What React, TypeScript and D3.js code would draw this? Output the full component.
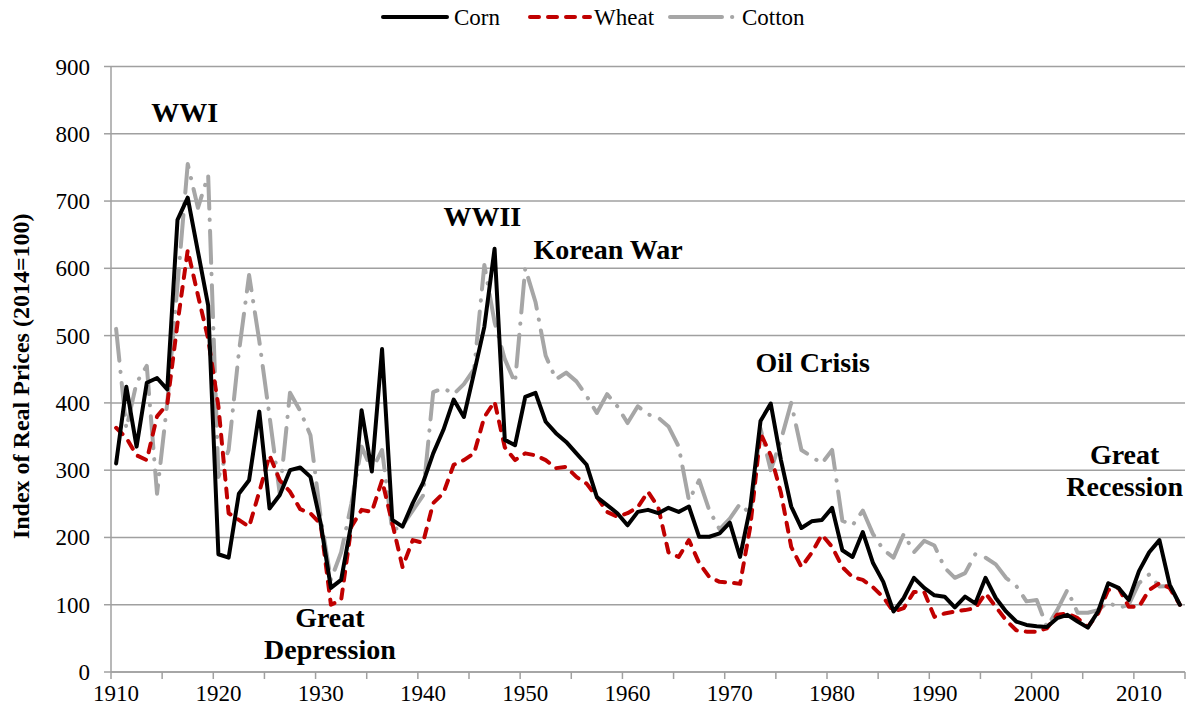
import React from "react";
import * as d3 from "d3";

const startYear = 1910;
const endYear = 2014;
const years = d3.range(startYear, endYear + 1);

const corn = [
  310, 424, 335, 430, 437, 420, 672, 705, 625, 545,
  175, 170, 265, 285, 387, 243, 263, 300, 304, 290,
  221, 125, 137, 221, 389, 298, 480, 226, 216, 251,
  281, 325, 360, 405, 379, 445, 513, 629, 345, 337,
  409, 415, 372, 355, 342, 325, 308, 260, 248, 236,
  218, 238, 241, 236, 244, 238, 246, 201, 201, 206,
  222, 171, 245, 373, 399, 315, 246, 214, 224, 226,
  244, 181, 171, 208, 162, 134, 90, 110, 140, 125,
  114, 112, 96, 112, 102, 140, 110, 90, 75, 70,
  68, 67, 80, 85, 75, 66, 90, 132, 125, 107,
  150, 178, 196, 130, 100,
];

const wheat = [
  363, 348, 322, 315, 380, 398, 518, 627, 560, 495,
  395, 236, 226, 216, 268, 322, 285, 268, 242, 236,
  220, 100, 107, 216, 241, 238, 285, 221, 156, 196,
  192, 251, 266, 308, 315, 325, 379, 402, 334, 315,
  325, 322, 315, 303, 305, 290, 280, 260, 238, 231,
  236, 245, 268, 245, 178, 171, 196, 162, 141, 134,
  133, 131, 216, 355, 322, 266, 186, 156, 177, 204,
  186, 156, 141, 137, 126, 111, 90, 95, 119, 119,
  82, 87, 90, 92, 95, 117, 97, 77, 62, 60,
  60, 65, 85, 87, 80, 67, 87, 122, 125, 97,
  97, 122, 132, 125, 100,
];

const cotton = [
  510, 362, 430, 455, 265, 400, 575, 755, 690, 738,
  290, 330, 475, 590, 492, 380, 265, 415, 388, 352,
  230, 137, 178, 250, 335, 300, 330, 210, 218, 240,
  262, 416, 422, 413, 428, 450, 605, 520, 465, 430,
  600, 550, 470, 435, 445, 432, 410, 385, 413, 395,
  370, 395, 383, 378, 365, 335, 255, 285, 240, 212,
  228, 250, 235, 362, 300, 345, 400, 330, 320, 310,
  330, 225, 218, 240, 205, 182, 170, 205, 178, 195,
  188, 155, 140, 147, 175, 170, 160, 140, 128, 105,
  107, 67, 92, 122, 88, 88, 92, 104, 95, 100,
  132, 145, 127, 128, 100,
];

const yTicks = [0, 100, 200, 300, 400, 500, 600, 700, 800, 900];
const xLabelYears = [1910, 1920, 1930, 1940, 1950, 1960, 1970, 1980, 1990, 2000, 2010];

const seriesNames = ["Corn", "Wheat", "Cotton"];

type Ann = { lines: string[]; year: number; value: number };
const annotations: Ann[] = [
  { lines: ["WWI"], year: 1916.7, value: 817 },
  { lines: ["WWII"], year: 1945.8, value: 663 },
  { lines: ["Korean War"], year: 1958.1, value: 614 },
  { lines: ["Oil Crisis"], year: 1978.1, value: 446 },
  { lines: ["Great", "Recession"], year: 2008.6, value: 309 },
  { lines: ["Great", "Depression"], year: 1930.9, value: 67 },
];

const W = 1189;
const H = 715;
const left = 111;
const right = 1185;
const top = 66.5;
const bottom = 672;
const FONT = "'Liberation Serif', 'Times New Roman', Times, serif";

export default function App() {
  const x = d3.scaleLinear().domain([startYear - 0.5, endYear + 0.5]).range([left, right]);
  const y = d3.scaleLinear().domain([0, 900]).range([bottom, top]);
  const line = d3
    .line<number>()
    .x((_, i) => x(years[i]))
    .y((d) => y(d));

  const styles = [
    { stroke: "#000000", dash: undefined as string | undefined, cap: "round" },
    { stroke: "#C00000", dash: "9 9", cap: "round" },
    { stroke: "#A6A6A6", dash: "32 11 0.3 11", cap: "round" },
  ];
  const data = [corn, wheat, cotton];

  const boundaryTicks = d3.range(startYear - 0.5, endYear + 0.6, 5);

  const legendItems = [
    { x1: 383, x2: 447, tx: 454 },
    { x1: 530, x2: 590, tx: 594 },
    { x1: 670, x2: 737, tx: 742 },
  ];

  const ts = { fontFamily: FONT } as React.CSSProperties;

  return (
    <div style={{ position: "absolute", left: 0, top: 0 }}>
      <svg width={W} height={H} style={{ display: "block", background: "#fff", fontFamily: FONT }}>
        {yTicks.map((t) => (
          <line key={"g" + t} x1={left} x2={right} y1={y(t)} y2={y(t)} stroke="#A0A0A0" strokeWidth={1.5} />
        ))}
        <line x1={left} x2={left} y1={top} y2={bottom} stroke="#A0A0A0" strokeWidth={1.5} />
        {yTicks.map((t) => (
          <g key={"yt" + t}>
            <line x1={left - 7} x2={left} y1={y(t)} y2={y(t)} stroke="#A0A0A0" strokeWidth={1.5} />
            <text x={90} y={y(t) + 8} fontSize={23} textAnchor="end" fill="#000" style={ts}>
              {t}
            </text>
          </g>
        ))}
        <line x1={left} x2={right} y1={bottom} y2={bottom} stroke="#A0A0A0" strokeWidth={1.5} />
        {boundaryTicks.map((b) => (
          <line key={"xt" + b} x1={x(b)} x2={x(b)} y1={bottom} y2={bottom + 7} stroke="#A0A0A0" strokeWidth={1.5} />
        ))}
        {xLabelYears.map((yr) => (
          <text key={"xl" + yr} x={x(yr)} y={701} fontSize={23} textAnchor="middle" fill="#000" style={ts}>
            {yr}
          </text>
        ))}
        <text
          transform={`translate(29, ${(top + bottom) / 2 + 7}) rotate(-90)`}
          textAnchor="middle"
          fontSize={24}
          fontWeight="bold"
          fill="#000"
          style={ts}
        >
          Index of Real Prices (2014=100)
        </text>
        {[2, 1, 0].map((si) => (
          <path
            key={"s" + si}
            d={line(data[si]) || ""}
            fill="none"
            stroke={styles[si].stroke}
            strokeWidth={4}
            strokeDasharray={styles[si].dash}
            strokeLinecap={styles[si].cap as any}
            strokeLinejoin="round"
          />
        ))}
        {annotations.map((a, i) => (
          <text key={"a" + i} x={x(a.year)} y={y(a.value)} fontSize={28} fontWeight="bold" textAnchor="middle" fill="#000" style={ts}>
            {a.lines.map((l, j) => (
              <tspan key={j} x={x(a.year)} dy={j === 0 ? 0 : 32}>
                {l}
              </tspan>
            ))}
          </text>
        ))}
        {legendItems.map((it, i) => (
          <g key={"lg" + i}>
            <line
              x1={it.x1}
              x2={it.x2}
              y1={17}
              y2={17}
              stroke={styles[i].stroke}
              strokeWidth={4}
              strokeDasharray={i === 2 ? "52 10 0.3 10" : styles[i].dash}
              strokeLinecap={styles[i].cap as any}
            />
            <text x={it.tx} y={25} fontSize={23} fill="#000" style={ts}>
              {seriesNames[i]}
            </text>
          </g>
        ))}
      </svg>
    </div>
  );
}
